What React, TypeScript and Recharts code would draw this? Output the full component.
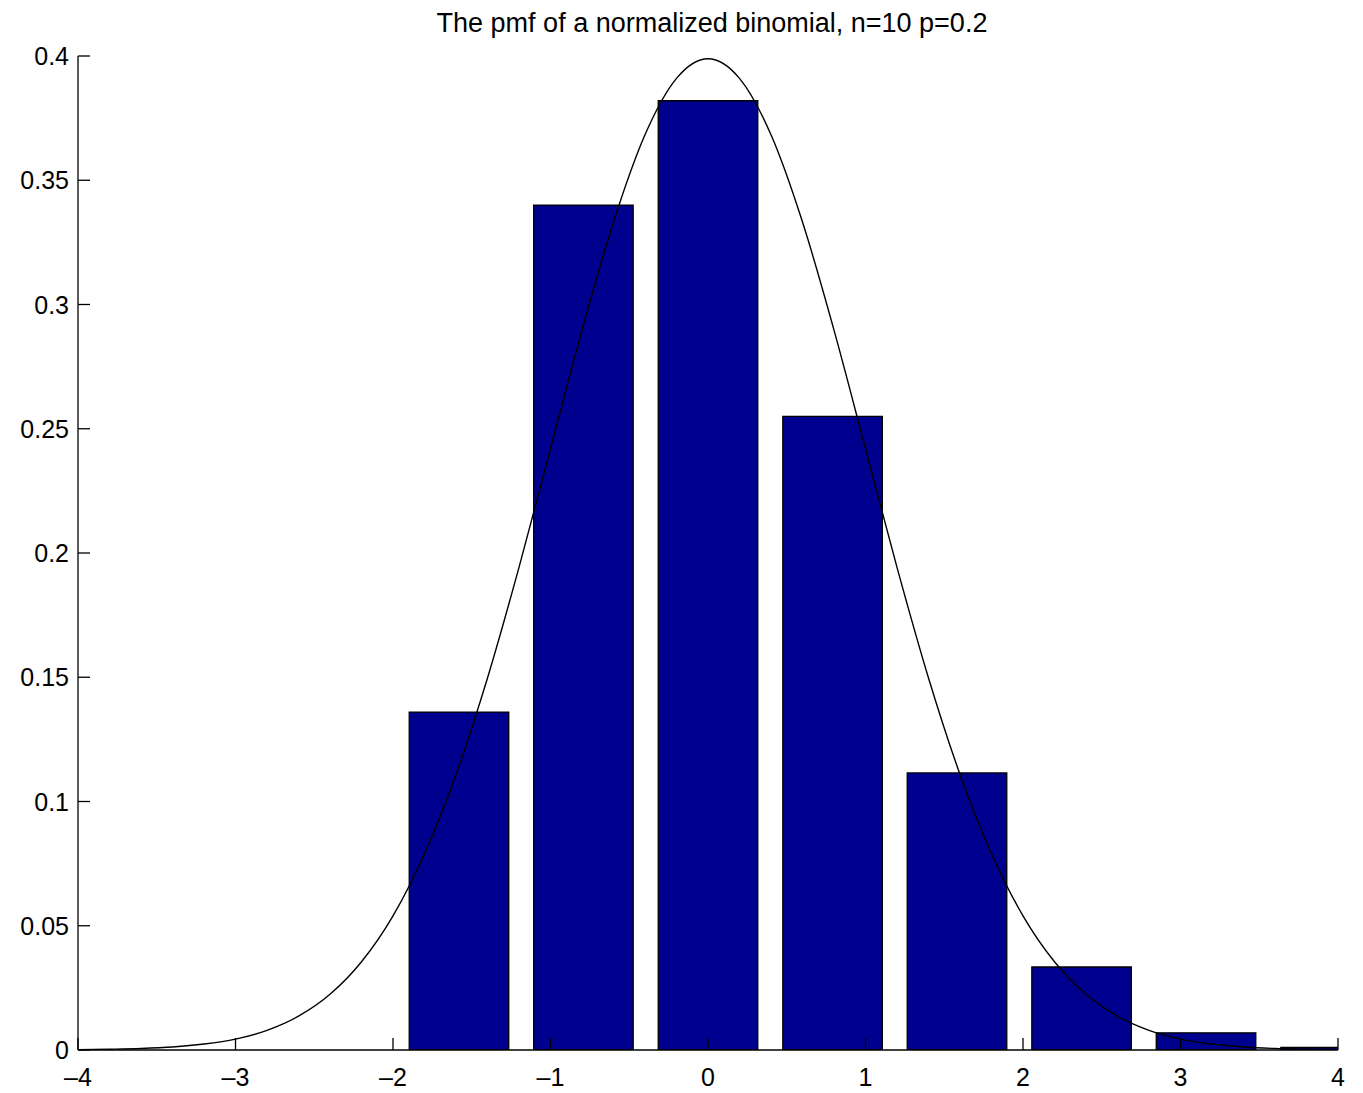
import { ComposedChart, XAxis, YAxis, Line, ReferenceArea } from 'recharts';

// bar centres (normalized k) and pmf heights
const barCenters = [-1.581, -0.791, 0, 0.791, 1.581, 2.372, 3.162, 3.953];
const barHeights = [0.136, 0.34, 0.382, 0.255, 0.1115, 0.0334, 0.0069, 0.001];
const barHalfWidth = 0.316;

// normal curve
const curveX = [
  -4, -3.8, -3.6, -3.4, -3.2, -3, -2.8, -2.6, -2.4, -2.2, -2, -1.8, -1.6, -1.4, -1.2, -1, -0.8, -0.6, -0.4, -0.2,
  0, 0.2, 0.4, 0.6, 0.8, 1, 1.2, 1.4, 1.6, 1.8, 2, 2.2, 2.4, 2.6, 2.8, 3, 3.2, 3.4, 3.6, 3.8, 4,
];
const curveY = [
  0.0001, 0.0003, 0.0006, 0.0012, 0.0024, 0.0044, 0.0079, 0.0136, 0.0224, 0.0355, 0.054, 0.079, 0.1109, 0.1497,
  0.1942, 0.242, 0.2897, 0.3332, 0.3683, 0.391, 0.3989, 0.391, 0.3683, 0.3332, 0.2897, 0.242, 0.1942, 0.1497, 0.1109,
  0.079, 0.054, 0.0355, 0.0224, 0.0136, 0.0079, 0.0044, 0.0024, 0.0012, 0.0006, 0.0003, 0.0001,
];

const xTicks = [-4, -3, -2, -1, 0, 1, 2, 3, 4];
const yTicks = [0, 0.05, 0.1, 0.15, 0.2, 0.25, 0.3, 0.35, 0.4];

const title = 'The pmf of a normalized binomial, n=10 p=0.2';

const curve = curveX.map((x, i) => ({ x, y: curveY[i] }));

const FONT = '"Liberation Sans", Arial, Helvetica, sans-serif';
const fmt = (v: number) => (v < 0 ? '\u2013' + Math.abs(v) : String(v));

const XTick = ({ x, y, payload }: any) => (
  <g>
    <line x1={x} y1={y} x2={x} y2={y - 12} stroke="#000" strokeWidth={1.3} />
    <text x={x} y={y + 36} textAnchor="middle" fontSize={25} fill="#000" fontFamily={FONT}>
      {fmt(payload.value)}
    </text>
  </g>
);

const YTick = ({ x, y, payload }: any) => (
  <g>
    <line x1={x + 9} y1={y} x2={x + 21} y2={y} stroke="#000" strokeWidth={1.3} />
    <text x={x} y={y} dy="0.36em" textAnchor="end" fontSize={25} fill="#000" fontFamily={FONT}>
      {payload.value}
    </text>
  </g>
);

export default function App() {
  return (
    <div style={{ width: 1363, height: 1093, position: 'relative', background: '#fff' }}>
      <style>{'body{margin:0}'}</style>
      <div
        style={{
          position: 'absolute',
          top: 8,
          left: 82,
          width: 1260,
          textAlign: 'center',
          fontFamily: FONT,
          fontSize: 27,
          color: '#000',
        }}
      >
        {title}
      </div>
      <ComposedChart width={1363} height={1093} data={curve} margin={{ top: 56, right: 25, left: 0, bottom: 0 }}>
        <XAxis
          dataKey="x"
          type="number"
          domain={[-4, 4]}
          ticks={xTicks}
          allowDataOverflow
          height={43}
          tickSize={0}
          tickMargin={0}
          tickLine={false}
          axisLine={{ stroke: '#000', strokeWidth: 1.3 }}
          tick={XTick}
        />
        <YAxis
          type="number"
          domain={[0, 0.4]}
          ticks={yTicks}
          allowDataOverflow
          width={78}
          tickSize={0}
          tickMargin={9}
          tickLine={false}
          axisLine={{ stroke: '#000', strokeWidth: 1.3 }}
          tick={YTick}
        />
        {barCenters.map((c, i) => (
          <ReferenceArea
            key={i}
            x1={c - barHalfWidth}
            x2={c + barHalfWidth}
            y1={0}
            y2={barHeights[i]}
            fill="#00008F"
            fillOpacity={1}
            stroke="#000"
            strokeWidth={1.3}
            ifOverflow="hidden"
          />
        ))}
        <Line
          dataKey="y"
          type="monotone"
          dot={false}
          stroke="#000"
          strokeWidth={1.4}
          isAnimationActive={false}
        />
      </ComposedChart>
    </div>
  );
}
